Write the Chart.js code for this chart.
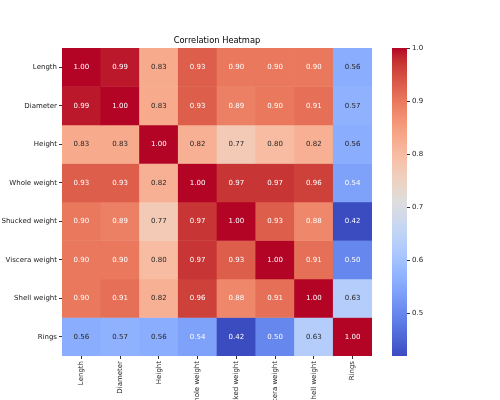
<!DOCTYPE html>
<html>
<head>
<meta charset="utf-8">
<script src="https://cdn.jsdelivr.net/npm/chart.js@4"></script>
<style>
  body { margin: 0; background: #fff; }
  #wrap { position: relative; width: 500px; height: 400px; }
  canvas { position: absolute; top: 0; }
</style>
</head>
<body>
<div id="wrap">
  <canvas id="heat" width="500" height="400" style="left:0"></canvas>
  <canvas id="cbar" width="108" height="400" style="left:392px"></canvas>
</div>
<script>
// Correlation matrix of the abalone features
const rowLabels = ['Length', 'Diameter', 'Height', 'Whole weight', 'Shucked weight', 'Viscera weight', 'Shell weight', 'Rings'];
const colLabels = ['Length', 'Diameter', 'Height', 'Whole weight', 'Shucked weight', 'Viscera weight', 'Shell weight', 'Rings'];
const lengthRow   = [1.00, 0.99, 0.83, 0.93, 0.90, 0.90, 0.90, 0.56];
const diameterRow = [0.99, 1.00, 0.83, 0.93, 0.89, 0.90, 0.91, 0.57];
const heightRow   = [0.83, 0.83, 1.00, 0.82, 0.77, 0.80, 0.82, 0.56];
const wholeRow    = [0.93, 0.93, 0.82, 1.00, 0.97, 0.97, 0.96, 0.54];
const shuckedRow  = [0.90, 0.89, 0.77, 0.97, 1.00, 0.93, 0.88, 0.42];
const visceraRow  = [0.90, 0.90, 0.80, 0.97, 0.93, 1.00, 0.91, 0.50];
const shellRow    = [0.90, 0.91, 0.82, 0.96, 0.88, 0.91, 1.00, 0.63];
const ringsRow    = [0.56, 0.57, 0.56, 0.54, 0.42, 0.50, 0.63, 1.00];
const corr = [lengthRow, diameterRow, heightRow, wholeRow, shuckedRow, visceraRow, shellRow, ringsRow];
const colorbarTicks = [0.5, 0.6, 0.7, 0.8, 0.9, 1.0];
const vmin = 0.42;
const vmax = 1.0;

// matplotlib coolwarm, 33 control points
const coolwarm = [
  [0.2298, 0.2987, 0.7537], [0.2662, 0.3531, 0.8015], [0.3039, 0.4065, 0.8450], [0.3428, 0.4588, 0.8837],
  [0.3830, 0.5094, 0.9174], [0.4244, 0.5581, 0.9456], [0.4667, 0.6046, 0.9682], [0.5096, 0.6483, 0.9848],
  [0.5530, 0.6889, 0.9954], [0.5963, 0.7261, 0.9998], [0.6392, 0.7596, 0.9982], [0.6813, 0.7890, 0.9904],
  [0.7222, 0.8140, 0.9766], [0.7615, 0.8343, 0.9569], [0.7987, 0.8498, 0.9317], [0.8335, 0.8602, 0.9011],
  [0.8654, 0.8654, 0.8654], [0.8978, 0.8489, 0.8209], [0.9241, 0.8274, 0.7745], [0.9445, 0.8009, 0.7267],
  [0.9589, 0.7698, 0.6780], [0.9673, 0.7341, 0.6288], [0.9700, 0.6943, 0.5794], [0.9668, 0.6504, 0.5303],
  [0.9580, 0.6028, 0.4818], [0.9437, 0.5518, 0.4342], [0.9239, 0.4973, 0.3880], [0.8990, 0.4396, 0.3432],
  [0.8692, 0.3783, 0.3003], [0.8346, 0.3129, 0.2593], [0.7956, 0.2413, 0.2205], [0.7525, 0.1572, 0.1841],
  [0.7057, 0.0156, 0.1502]
];

function cmapRgb(t) {
  t = Math.max(0, Math.min(1, t));
  const pos = t * (coolwarm.length - 1);
  const i = Math.min(Math.floor(pos), coolwarm.length - 2);
  const f = pos - i;
  return coolwarm[i].map((c, k) => c + (coolwarm[i + 1][k] - c) * f);
}

function toCss(rgb) {
  return 'rgb(' + rgb.map(c => Math.round(c * 255)).join(',') + ')';
}

function norm(v) {
  return (v - vmin) / (vmax - vmin);
}

// seaborn picks dark or white annotation text from luminance
function textColor(rgb) {
  const lin = rgb.map(c => c <= 0.03928 ? c / 12.92 : Math.pow((c + 0.055) / 1.055, 2.4));
  const lum = 0.2126 * lin[0] + 0.7152 * lin[1] + 0.0722 * lin[2];
  return lum > 0.408 ? '#262626' : '#ffffff';
}

const FONT = 'DejaVu Sans';

const annotatePlugin = {
  id: 'annotate',
  afterDatasetsDraw(chart) {
    const { ctx, scales: { x, y }, chartArea } = chart;
    ctx.save();
    ctx.font = '7px "' + FONT + '"';
    ctx.textAlign = 'center';
    ctx.textBaseline = 'middle';
    corr.forEach((row, i) => {
      row.forEach((v, j) => {
        ctx.fillStyle = textColor(cmapRgb(norm(v)));
        ctx.fillText(v.toFixed(2), x.getPixelForValue(j), y.getPixelForValue(i + 0.5));
      });
    });
    ctx.fillStyle = '#000';
    ctx.font = '8.3px "' + FONT + '"';
    ctx.fillText('Correlation Heatmap', (chartArea.left + chartArea.right) / 2, 41);
    ctx.restore();
  }
};

new Chart(document.getElementById('heat').getContext('2d'), {
  type: 'bar',
  data: {
    labels: colLabels,
    datasets: rowLabels.map((r, i) => ({
      label: r,
      data: colLabels.map(() => 1),
      backgroundColor: corr[i].map(v => toCss(cmapRgb(norm(v)))),
      borderWidth: 0,
      barPercentage: 1,
      categoryPercentage: 1
    }))
  },
  options: {
    responsive: false,
    animation: false,
    devicePixelRatio: 1,
    layout: { padding: { top: 48, right: 128, left: 0, bottom: 0 } },
    plugins: {
      legend: { display: false },
      tooltip: { enabled: false }
    },
    scales: {
      x: {
        stacked: true,
        border: { display: false },
        grid: { offset: false, drawOnChartArea: false, tickLength: 3, tickColor: '#333' },
        ticks: {
          autoSkip: false,
          minRotation: 90,
          maxRotation: 90,
          padding: 2,
          color: '#222',
          font: { family: FONT, size: 7 }
        },
        afterFit: (axis) => { axis.height = 44; }
      },
      y: {
        stacked: true,
        reverse: true,
        min: 0,
        max: 8,
        border: { display: false },
        grid: { drawOnChartArea: false, tickLength: 3, tickColor: '#333' },
        afterBuildTicks: (axis) => {
          axis.ticks = rowLabels.map((_, i) => ({ value: i + 0.5 }));
        },
        ticks: {
          padding: 2,
          color: '#222',
          font: { family: FONT, size: 7 },
          callback: (v, i) => rowLabels[i]
        },
        afterFit: (axis) => { axis.width = 62; }
      }
    }
  },
  plugins: [annotatePlugin]
});

// colorbar: one floating bar filled with the colormap gradient
new Chart(document.getElementById('cbar').getContext('2d'), {
  type: 'bar',
  data: {
    labels: [''],
    datasets: [{
      data: [[vmin, vmax]],
      borderWidth: 0,
      barPercentage: 1,
      categoryPercentage: 1,
      backgroundColor: (c) => {
        const area = c.chart.chartArea;
        if (!area) return null;
        const g = c.chart.ctx.createLinearGradient(0, area.bottom, 0, area.top);
        coolwarm.forEach((rgb, k) => g.addColorStop(k / (coolwarm.length - 1), toCss(rgb)));
        return g;
      }
    }]
  },
  options: {
    responsive: false,
    animation: false,
    devicePixelRatio: 1,
    layout: { padding: { top: 48, bottom: 44, left: 0, right: 0 } },
    plugins: {
      legend: { display: false },
      tooltip: { enabled: false }
    },
    scales: {
      x: { display: false },
      y: {
        position: 'right',
        min: vmin,
        max: vmax,
        border: { display: false },
        grid: { drawOnChartArea: false, tickLength: 3, tickColor: '#333' },
        afterBuildTicks: (axis) => {
          axis.ticks = colorbarTicks.map(v => ({ value: v }));
        },
        ticks: {
          padding: 2,
          color: '#222',
          font: { family: FONT, size: 7 },
          callback: (v) => v.toFixed(1)
        },
        afterFit: (axis) => { axis.width = 93; }
      }
    }
  }
});
</script>
</body>
</html>
